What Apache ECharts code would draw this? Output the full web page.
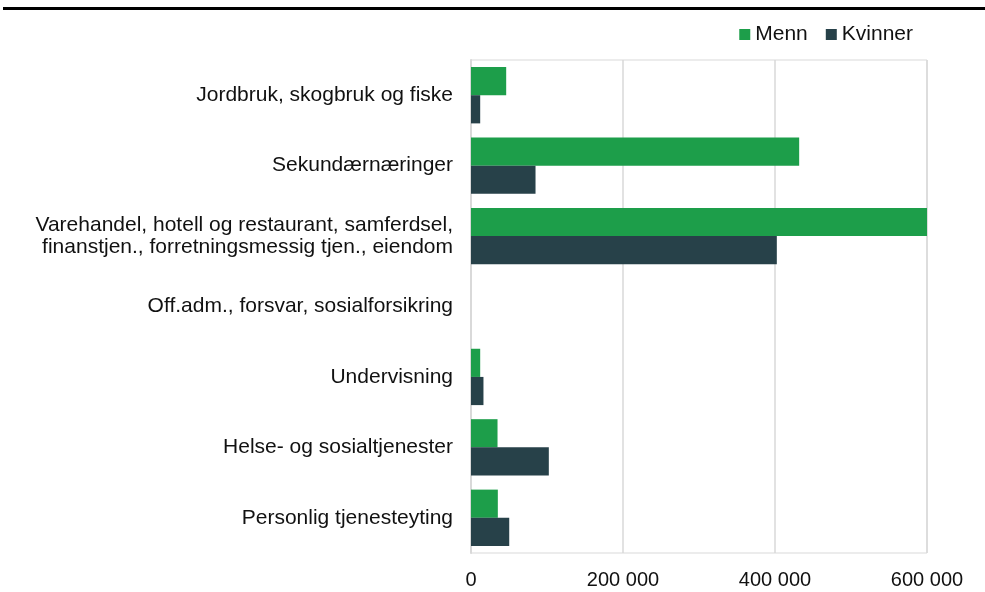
<!DOCTYPE html>
<html>
<head>
<meta charset="utf-8">
<script src="https://cdn.jsdelivr.net/npm/echarts@6/dist/echarts.min.js"></script>
<style>
  html, body { margin: 0; padding: 0; background: #fff; }
  #chart { width: 985px; height: 592px; }
</style>
</head>
<body>
<div id="chart"></div>
<script>
// kategorier, ovenfra og ned
const categories = [
  'Jordbruk, skogbruk og fiske',
  'Sekundærnæringer',
  'Varehandel, hotell og restaurant, samferdsel,\nfinanstjen., forretningsmessig tjen., eiendom',
  'Off.adm., forsvar, sosialforsikring',
  'Undervisning',
  'Helse- og sosialtjenester',
  'Personlig tjenesteyting'
];
const menn = [46300, 431800, 600000, null, 12100, 34900, 35300];
const kvinner = [12100, 84900, 402400, null, 16400, 102400, 50300];
const xTicks = [0, 200000, 400000, 600000];

const chart = echarts.init(document.getElementById('chart'));

const option = {
  animation: false,
  textStyle: { fontFamily: 'Liberation Sans, Arial, sans-serif' },
  graphic: [
    {
      type: 'line',
      shape: { x1: 3, y1: 8.5, x2: 985, y2: 8.5 },
      style: { stroke: '#000', lineWidth: 3 }
    }
  ],
  legend: {
    data: ['Menn', 'Kvinner'],
    right: 67,
    top: 19,
    icon: 'rect',
    itemWidth: 11,
    itemHeight: 11,
    itemGap: 18,
    textStyle: { fontSize: 21, color: '#111' }
  },
  grid: {
    left: 471,
    right: 58,
    top: 60,
    bottom: 39,
    show: true,
    borderColor: '#d9d9d9',
    borderWidth: 1
  },
  xAxis: {
    type: 'value',
    min: xTicks[0],
    max: xTicks[xTicks.length - 1],
    interval: 200000,
    axisLine: { show: false },
    axisTick: { show: false },
    splitLine: { lineStyle: { color: '#d9d9d9', width: 1.5 } },
    axisLabel: {
      fontSize: 20,
      color: '#111',
      margin: 17,
      formatter: function (v) {
        return String(v).replace(/\B(?=(\d{3})+(?!\d))/g, ' ');
      }
    }
  },
  yAxis: {
    type: 'category',
    inverse: true,
    data: categories,
    axisLine: { show: true, lineStyle: { color: '#d9d9d9', width: 2 } },
    axisTick: { show: false },
    axisLabel: { fontSize: 21, color: '#111', margin: 18, lineHeight: 22 }
  },
  series: [
    {
      name: 'Menn',
      type: 'bar',
      data: menn,
      barCategoryGap: '20%',
      barGap: '0%',
      itemStyle: { color: '#1d9e4a' }
    },
    {
      name: 'Kvinner',
      type: 'bar',
      data: kvinner,
      itemStyle: { color: '#274149' }
    }
  ]
};

chart.setOption(option);
</script>
</body>
</html>
